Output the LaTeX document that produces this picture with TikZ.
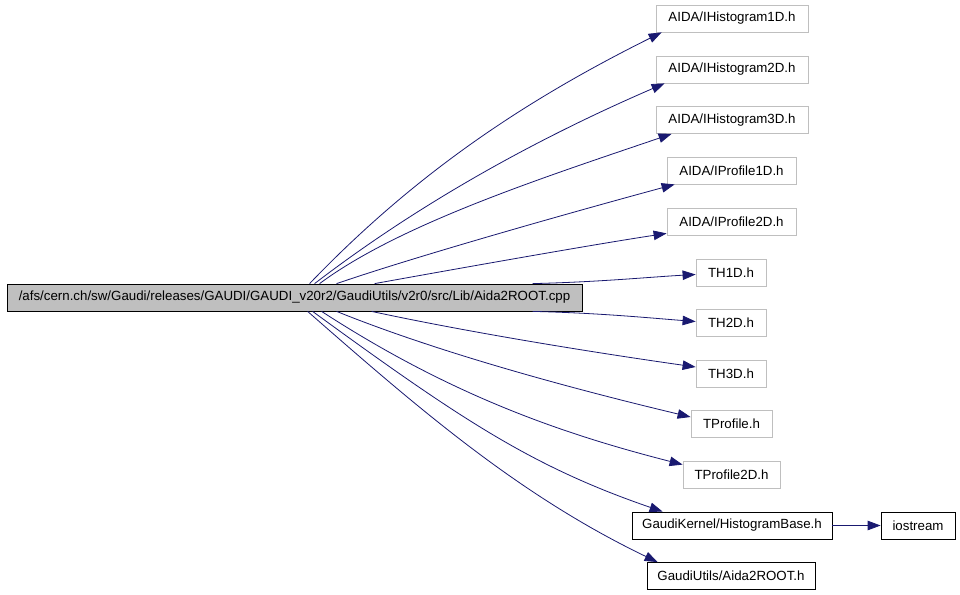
\documentclass[tikz,border=0pt]{standalone}
\usepackage{fontspec}
\newfontfamily\gvfont{Liberation Sans}
\usetikzlibrary{arrows.meta,calc}
\definecolor{edgeblue}{HTML}{191970}
\definecolor{boxgray}{HTML}{BFBFBF}
\begin{document}
\begin{tikzpicture}[x=1pt,y=-1pt,
  every node/.style={font=\gvfont\fontsize{13.3}{15}\selectfont, inner sep=0pt, minimum height=27pt, align=center},
  graybox/.style={draw=boxgray, line width=0.8pt, fill=white},
  blackbox/.style={draw=black, line width=0.8pt, fill=white},
  mainbox/.style={draw=black, line width=0.8pt, fill=boxgray},
  dep/.style={draw=edgeblue, line width=0.8pt, -{Triangle[length=13pt,width=9.5pt]}, fill=none}
]
\useasboundingbox (0,0) rectangle (960,594);
\fill[white] (0,0) rectangle (960,594);

\node[mainbox, minimum width=575pt] (main) at (294.5,297.5) {/afs/cern.ch/sw/Gaudi/releases/GAUDI/GAUDI\_v20r2/GaudiUtils/v2r0/src/Lib/Aida2ROOT.cpp};

\node[graybox, minimum width=152pt] (h1) at (732,18.5) {AIDA/IHistogram1D.h};
\node[graybox, minimum width=152pt] (h2) at (732,69.5) {AIDA/IHistogram2D.h};
\node[graybox, minimum width=152pt] (h3) at (732,120) {AIDA/IHistogram3D.h};
\node[graybox, minimum width=129pt] (p1) at (731.5,170.5) {AIDA/IProfile1D.h};
\node[graybox, minimum width=129pt] (p2) at (731.5,221.5) {AIDA/IProfile2D.h};
\node[graybox, minimum width=70pt] (t1) at (731,272.5) {TH1D.h};
\node[graybox, minimum width=70pt] (t2) at (731,323) {TH2D.h};
\node[graybox, minimum width=70pt] (t3) at (731,373.5) {TH3D.h};
\node[graybox, minimum width=81pt] (tp) at (731.5,424) {TProfile.h};
\node[graybox, minimum width=97pt] (tp2) at (731.5,474.5) {TProfile2D.h};
\node[blackbox, minimum width=200pt] (hb) at (732,525.5) {GaudiKernel/HistogramBase.h};
\node[blackbox, minimum width=74pt] (ios) at (918,525.5) {iostream};
\node[blackbox, minimum width=168pt] (ar) at (731,576) {GaudiUtils/Aida2ROOT.h};

% edges from the top of main
\draw[dep] ($(main.north west)+(303,0)$) .. controls (420,168.5) and (532,97) .. ($(h1.south west)+(6,0)$);
\draw[dep] ($(main.north west)+(308,0)$) .. controls (425,199) and (545,135) .. ($(h2.south west)+(9,0)$);
\draw[dep] ($(main.north west)+(313,0)$) .. controls (400,224) and (542,178) .. ($(h3.south west)+(16,0)$);
\draw[dep] ($(main.north west)+(330,0)$) .. controls (420,255) and (580,210) .. ($(p1.south west)+(8,0)$);
\draw[dep] ($(main.north west)+(368,0)$) .. controls (450,270) and (590,245) .. ($(p2.south west)+(0,-2)$);
\draw[dep] ($(main.north west)+(526,0)$) .. controls (600,282) and (650,277) .. ($(t1.west)+(0,2)$);

% edges from the bottom of main
\draw[dep] ($(main.south west)+(526,0)$) .. controls (600,313) and (650,318) .. ($(t2.west)+(0,-1.5)$);
\draw[dep] ($(main.south west)+(365,0)$) .. controls (472,333) and (597,353) .. ($(t3.west)+(0,-6.5)$);
\draw[dep] ($(main.south west)+(330,0)$) .. controls (447,356) and (590,393) .. ($(tp.west)+(0,-7)$);
\draw[dep] ($(main.south west)+(315,0)$) .. controls (452,396) and (563,434) .. ($(tp2.north west)+(0,4)$);
\draw[dep] ($(main.south west)+(306,0)$) .. controls (463,421) and (533,467) .. ($(hb.north west)+(31,0)$);
\draw[dep] ($(main.south west)+(301,0)$) .. controls (418,408) and (518,495) .. ($(ar.north west)+(11,0)$);

\draw[dep] (hb.east) -- (ios.west);
\end{tikzpicture}
\end{document}
